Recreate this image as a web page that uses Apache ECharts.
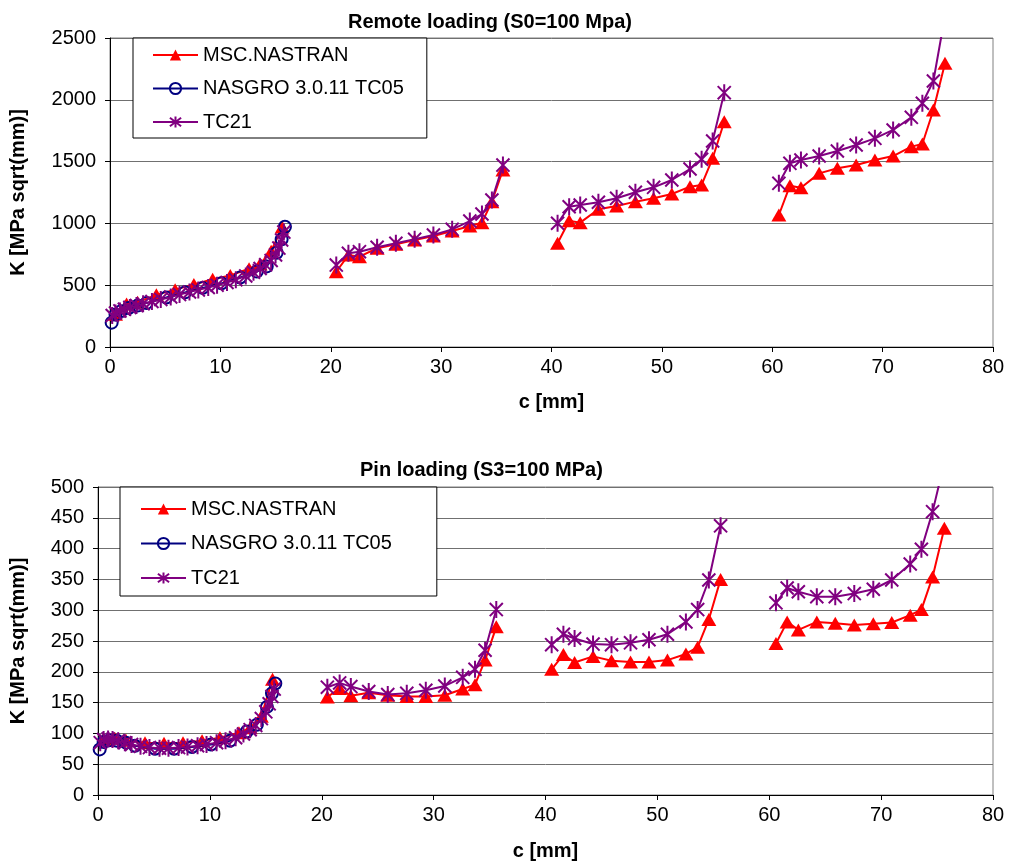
<!DOCTYPE html>
<html>
<head>
<meta charset="utf-8">
<script src="https://cdn.jsdelivr.net/npm/echarts@6/dist/echarts.min.js"></script>
<style>
  html, body { margin: 0; padding: 0; background: #ffffff; }
  #chart { width: 1010px; height: 865px; }
</style>
</head>
<body>
<div id="chart"></div>
<script>
// Crack length c [mm] of the coarse model points, one list per crack segment
const segX1 = [0.5, 1.5, 2.5, 4.2, 5.9, 7.6, 9.3, 10.9, 12.6, 13.6, 14.6, 15.6];
const segX2 = [20.5, 21.6, 22.6, 24.2, 25.9, 27.6, 29.3, 31.0, 32.6, 33.7, 34.6, 35.6];
const segX3 = [40.55, 41.6, 42.6, 44.25, 45.9, 47.6, 49.25, 50.9, 52.55, 53.6, 54.6, 55.65];
const segX4 = [60.6, 61.6, 62.6, 64.25, 65.9, 67.6, 69.3, 70.95, 72.6, 73.6, 74.6, 75.65];

// Finer sampling used on the first segment
const tc21X1 = [0.2, 0.5, 0.9, 1.3, 1.8, 2.4, 3.0, 3.8, 4.6, 5.5, 6.3, 7.2, 8.0, 8.9, 9.7, 10.6, 11.4, 12.3, 13.0, 13.6, 14.1, 14.6, 15.0, 15.3, 15.55, 15.75];
const nasgroX = [0.15, 0.5, 1.0, 1.7, 2.5, 3.3, 5.1, 6.8, 8.4, 10.1, 11.8, 13.3, 14.2, 15.1, 15.55, 15.85];

// Remote loading (S0 = 100 MPa): K [MPa sqrt(mm)]
const remoteMsc1 = [265, 348, 362, 422, 464, 505, 548, 578, 634, 672, 775, 970];
const remoteMsc2 = [609, 744, 731, 799, 831, 866, 898, 939, 979, 1006, 1176, 1432];
const remoteMsc3 = [839, 1022, 1006, 1114, 1141, 1176, 1203, 1238, 1297, 1311, 1527, 1823];
const remoteMsc4 = [1068, 1305, 1289, 1405, 1446, 1472, 1513, 1545, 1621, 1642, 1917, 2295];
const remoteNasgro = [197, 262, 290, 315, 335, 355, 400, 442, 478, 515, 562, 610, 652, 763, 871, 973];
const remoteTc21_1 = [255, 275, 292, 305, 320, 335, 350, 368, 385, 405, 425, 445, 462, 482, 500, 522, 545, 575, 605, 635, 665, 700, 745, 800, 866, 930];
const remoteTc21_2 = [663, 758, 771, 807, 839, 871, 906, 952, 1019, 1076, 1189, 1472];
const remoteTc21_3 = [1001, 1135, 1149, 1171, 1203, 1252, 1292, 1351, 1440, 1519, 1667, 2058];
const remoteTc21_4 = [1324, 1486, 1513, 1545, 1586, 1634, 1688, 1756, 1858, 1972, 2152, 2680];

// Pin loading (S3 = 100 MPa): K [MPa sqrt(mm)]
const pinMsc1 = [91, 92, 89, 85, 84, 85, 88, 93, 101, 109, 128, 188];
const pinMsc2 = [159, 173, 161, 166, 162, 160, 160, 162, 172, 179, 219, 273];
const pinMsc3 = [204, 228, 215, 225, 218, 216, 216, 219, 229, 240, 285, 350];
const pinMsc4 = [246, 281, 268, 281, 279, 276, 278, 280, 292, 301, 354, 433];
const pinNasgro = [74, 86, 89, 88, 85, 80, 75, 75, 78, 82, 88, 103, 114, 143, 165, 181];
const pinTc21_1 = [85, 90, 91, 90, 88, 85, 82, 79, 77, 76, 76, 77, 78, 80, 82, 85, 88, 93, 99, 106, 113, 124, 135, 148, 160, 172];
const pinTc21_2 = [175, 182, 176, 168, 163, 165, 170, 177, 191, 204, 235, 301];
const pinTc21_3 = [244, 261, 254, 245, 244, 247, 252, 261, 281, 301, 349, 437];
const pinTc21_4 = [312, 336, 330, 322, 322, 327, 334, 349, 375, 399, 460, 540];

const seriesNames = ['MSC.NASTRAN', 'NASGRO 3.0.11 TC05', 'TC21'];
const xTicks = { min: 0, max: 80, interval: 10 };
const remoteTicks = { min: 0, max: 2500, interval: 500 };
const pinTicks = { min: 0, max: 500, interval: 50 };

const FONT = 'Liberation Sans, Arial, sans-serif';
const RED = '#ff0000';
const NAVY = '#000080';
const PURPLE = '#800080';
// asterisk marker: an X with a vertical stroke
const STAR = 'path://M0,0L10,10M10,0L0,10M5,-1.5L5,11.5';

const styles = {
  'MSC.NASTRAN': {
    symbol: 'triangle', symbolSize: [15, 13],
    itemStyle: { color: RED, borderColor: RED, borderWidth: 0 },
    lineStyle: { color: RED, width: 2 }
  },
  'NASGRO 3.0.11 TC05': {
    symbol: 'circle', symbolSize: 12,
    itemStyle: { color: 'rgba(255,255,255,0)', borderColor: NAVY, borderWidth: 2 },
    lineStyle: { color: NAVY, width: 2 }
  },
  'TC21': {
    symbol: STAR, symbolSize: 17, symbolKeepAspect: true,
    itemStyle: { color: PURPLE, borderColor: PURPLE, borderWidth: 2 },
    lineStyle: { color: PURPLE, width: 2 }
  }
};

function pairs(xs, ys) {
  return xs.map((x, i) => [x, ys[i]]);
}

// One line series per crack segment, so the curve breaks between segments
function segmentSeries(name, segments, gridIndex) {
  return segments.map(([xs, ys]) => Object.assign({
    type: 'line',
    name: name,
    xAxisIndex: gridIndex,
    yAxisIndex: gridIndex,
    data: pairs(xs, ys),
    showSymbol: true,
    showAllSymbol: true,
    clip: true,
    animation: false,
    emphasis: { disabled: true },
    z: 2 + seriesNames.indexOf(name)
  }, styles[name]));
}

const series = [].concat(
  segmentSeries('MSC.NASTRAN', [[segX1, remoteMsc1], [segX2, remoteMsc2], [segX3, remoteMsc3], [segX4, remoteMsc4]], 0),
  segmentSeries('NASGRO 3.0.11 TC05', [[nasgroX, remoteNasgro]], 0),
  segmentSeries('TC21', [[tc21X1, remoteTc21_1], [segX2, remoteTc21_2], [segX3, remoteTc21_3], [segX4, remoteTc21_4]], 0),
  segmentSeries('MSC.NASTRAN', [[segX1, pinMsc1], [segX2, pinMsc2], [segX3, pinMsc3], [segX4, pinMsc4]], 1),
  segmentSeries('NASGRO 3.0.11 TC05', [[nasgroX, pinNasgro]], 1),
  segmentSeries('TC21', [[tc21X1, pinTc21_1], [segX2, pinTc21_2], [segX3, pinTc21_3], [segX4, pinTc21_4]], 1)
);

function xAxis(gridIndex, nameGap) {
  return {
    type: 'value', gridIndex: gridIndex,
    min: xTicks.min, max: xTicks.max, interval: xTicks.interval,
    name: 'c [mm]', nameLocation: 'middle', nameGap: nameGap,
    nameTextStyle: { fontFamily: FONT, fontSize: 20, fontWeight: 'bold', color: '#000' },
    axisLine: { show: true, onZero: false, lineStyle: { color: '#000', width: 1 } },
    axisTick: { show: true, inside: false, length: 5, lineStyle: { color: '#000' } },
    axisLabel: { fontFamily: FONT, fontSize: 20, color: '#000', margin: 10, formatter: v => String(v) },
    splitLine: { show: false }
  };
}

function yAxis(gridIndex, ticks, nameGap) {
  return {
    type: 'value', gridIndex: gridIndex,
    min: ticks.min, max: ticks.max, interval: ticks.interval,
    name: 'K [MPa sqrt(mm)]', nameLocation: 'middle', nameGap: nameGap,
    nameTextStyle: { fontFamily: FONT, fontSize: 20, fontWeight: 'bold', color: '#000' },
    axisLine: { show: true, onZero: false, lineStyle: { color: '#000', width: 1 } },
    axisTick: { show: true, inside: false, length: 5, lineStyle: { color: '#000' } },
    axisLabel: { fontFamily: FONT, fontSize: 20, color: '#000', margin: 14, formatter: v => String(v) },
    splitLine: { show: true, lineStyle: { color: '#707070', width: 1 } }
  };
}

function legend(left, top, padding, itemGap) {
  return {
    data: seriesNames,
    orient: 'vertical',
    left: left, top: top,
    padding: padding,
    itemGap: itemGap,
    itemWidth: 45, itemHeight: 14,
    backgroundColor: '#ffffff',
    borderColor: '#000000', borderWidth: 1,
    selectedMode: false,
    textStyle: { fontFamily: FONT, fontSize: 20, color: '#000', lineHeight: 20 },
    z: 10
  };
}

const chart = echarts.init(document.getElementById('chart'), null, { renderer: 'canvas' });
chart.setOption({
  backgroundColor: '#ffffff',
  animation: false,
  title: [
    {
      text: 'Remote loading (S0=100 Mpa)', left: 348, top: 12, padding: 0,
      textStyle: { fontFamily: FONT, fontSize: 20, fontWeight: 'bold', color: '#000' }
    },
    {
      text: 'Pin loading (S3=100 MPa)', left: 360, top: 460, padding: 0,
      textStyle: { fontFamily: FONT, fontSize: 20, fontWeight: 'bold', color: '#000' }
    }
  ],
  legend: [
    legend(133, 38, [7, 23, 6, 19], 13.5),
    legend(120, 487, [12, 45, 8, 20], 14.5)
  ],
  grid: [
    { left: 110, top: 38, width: 883, height: 309, show: true, borderColor: '#808080', borderWidth: 1, containLabel: false },
    { left: 98, top: 487, width: 895, height: 308, show: true, borderColor: '#808080', borderWidth: 1, containLabel: false }
  ],
  xAxis: [xAxis(0, 45), xAxis(1, 46)],
  yAxis: [yAxis(0, remoteTicks, 82), yAxis(1, pinTicks, 70)],
  series: series
});
</script>
</body>
</html>
